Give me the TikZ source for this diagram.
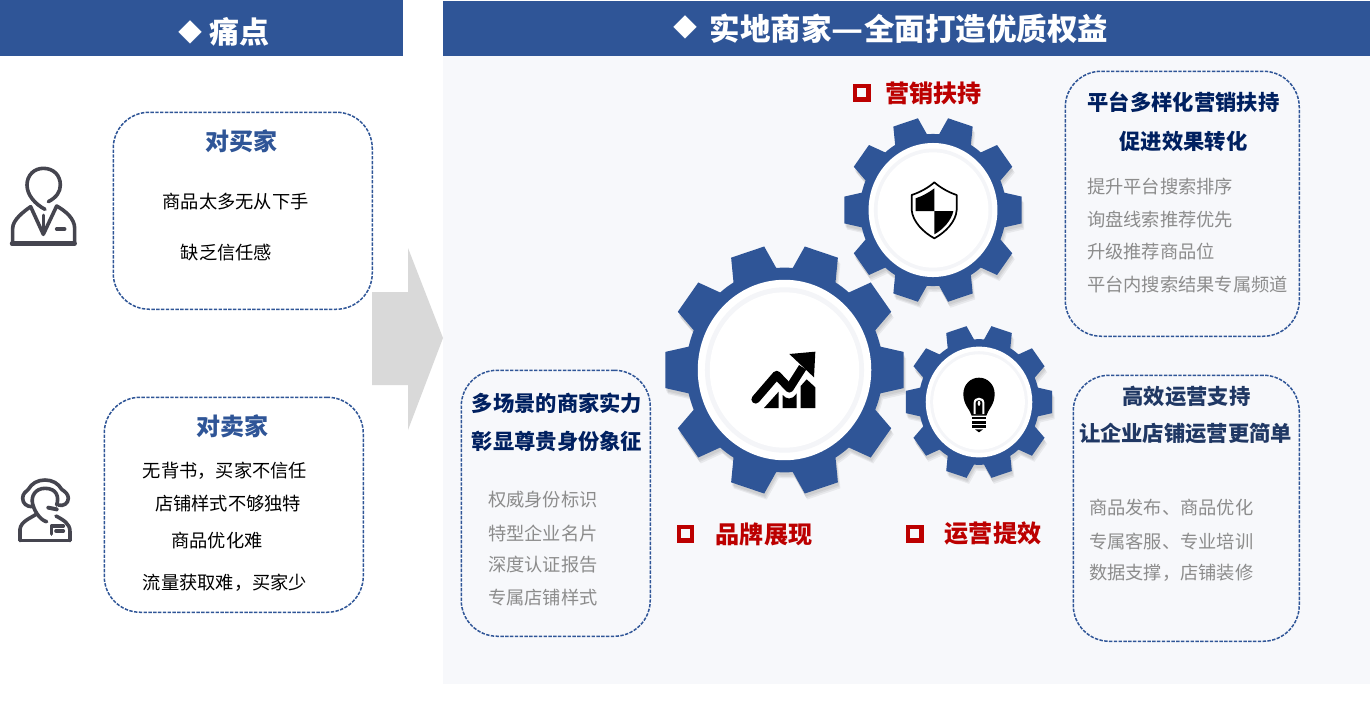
\documentclass[tikz,border=0pt]{standalone}
\usepackage{fontspec}
\setmainfont{Noto Sans CJK SC}
\definecolor{brand}{HTML}{2F5597}
\definecolor{panelbg}{HTML}{F7F8FB}
\definecolor{arrowgrey}{HTML}{D9D9D9}
\definecolor{navy}{HTML}{002060}
\definecolor{navyb}{HTML}{203864}
\definecolor{itemgrey}{HTML}{8C8C8C}
\definecolor{redlabel}{HTML}{BC0000}
\definecolor{iconink}{HTML}{45454F}
\definecolor{ringgrey}{HTML}{F4F5F8}
\tikzset{
  dashbox/.style={draw=brand,line width=1.5pt,dash pattern=on 3.4pt off 1.4pt,rounded corners=36pt,inner sep=0pt,anchor=north west},
  txt/.style={inner sep=0pt,outer sep=0pt},
  bodytxt/.style={txt,font=\fontsize{18.25}{18.25}\selectfont,text=black},
  itemtxt/.style={txt,anchor=west,font=\fontsize{18.25}{18.25}\selectfont,text=itemgrey},
  headtxt/.style={txt,font=\fontsize{21.3}{21.3}\selectfont\bfseries,text=navy},
  headtxtb/.style={txt,font=\fontsize{21.3}{21.3}\selectfont\bfseries,text=navyb},
  boxtitle/.style={txt,font=\fontsize{24}{24}\selectfont\bfseries,text=brand},
  redtxt/.style={txt,font=\fontsize{24.1}{24.1}\selectfont\bfseries,text=redlabel},
  bartxt/.style={txt,font=\fontsize{30}{30}\selectfont\bfseries,text=white},
  titletxt/.style={txt,font=\fontsize{30.5}{30.5}\selectfont\bfseries,text=white},
  marktxt/.style={txt,font=\fontsize{24}{24}\selectfont\bfseries,text=white},
  redmark/.style={draw=redlabel,line width=4.4pt,minimum size=13.2pt,inner sep=0pt,fill=none},
  iconline/.style={draw=iconink,line width=3.6pt,line cap=round,line join=round,fill=none},
  zoomed/.style={x=0.33333pt,y=-0.33333pt}
}
\newcommand\gearoutline[1]{%
  \fill[#1] (-13.2:81.7pt)
    \foreach \a in {0,36,...,324} {
      -- (\a-13.2:81.7pt) -- (\a-8.3:100pt) -- (\a+8.3:100pt) -- (\a+13.2:81.7pt)
      arc[start angle=\a+13.2,end angle=\a+22.8,radius=81.7pt]
    } -- cycle;
}
\newcommand\gearfig[3]{%
  \foreach \dx/\dy in {2.5/6,1.5/4.5,0.8/3}{
    \begin{scope}[shift={(#1+\dx,#2+\dy)},xscale=#3/100,yscale=#3*1.04/100]
      \gearoutline{black,opacity=0.06}
    \end{scope}
  }
  \begin{scope}[shift={(#1,#2)},xscale=#3/100,yscale=#3*1.04/100]
    \gearoutline{brand}
    \fill[white] (0,0) circle[radius=72pt];
    \fill[ringgrey] (0,0) circle[radius=66pt];
    \fill[white] (0,0) circle[radius=62pt];
  \end{scope}
}
\begin{document}
\begin{tikzpicture}[x=1pt,y=-1pt]
\useasboundingbox (0,0) rectangle (1370,705);
\fill[white] (0,0) rectangle (1370,705);
% panels
\fill[panelbg] (443,56) rectangle (1370,684);
\fill[brand] (0,0) rectangle (403,56);
\fill[brand] (443,1) rectangle (1370,56);
\node[marktxt] (markl) at (190,32) {◆};
\node[bartxt] (titlel) at (239,32) {痛点};
\node[marktxt] (markr) at (685,27.5) {◆};
\node[titletxt] (titler) at (909,29) {实地商家\scalebox{1.15}[1]{—}全面打造优质权益};
% big arrow
\fill[arrowgrey] (372,292) -- (408,292) -- (408,248) -- (443,338) -- (408,430) -- (408,385) -- (372,385) -- cycle;
% boxes
\node[dashbox,minimum width=259pt,minimum height=197pt] (buyer) at (112.5,111.5) {};
\node[dashbox,minimum width=259pt,minimum height=215pt] (seller) at (103.5,396.5) {};
\node[dashbox,minimum width=189pt,minimum height=266pt] (brandbox) at (460.5,369.5) {};
\node[dashbox,minimum width=234pt,minimum height=265pt] (mktbox) at (1064.5,70.5) {};
\node[dashbox,minimum width=226pt,minimum height=266pt] (opsbox) at (1072.5,374.5) {};
% left texts
\node[boxtitle] (b0) at (241,141) {对买家};
\node[bodytxt] (b1) at (235.5,202) {商品太多无从下手};
\node[bodytxt] (b2) at (226.5,253) {缺乏信任感};
\node[boxtitle] (s0) at (232,426.5) {对卖家};
\node[bodytxt] (s1) at (225,470.5) {无背书，买家不信任};
\node[bodytxt] (s2) at (228,503.5) {店铺样式不够独特};
\node[bodytxt] (s3) at (217,541) {商品优化难};
\node[bodytxt] (s4) at (225,583) {流量获取难，买家少};
% brand box
\node[headtxt] (h1) at (557,403) {多场景的商家实力};
\node[headtxt] (h2) at (557,441) {彰显尊贵身份象征};
\node[itemtxt] (i1) at (488,500) {权威身份标识};
\node[itemtxt] (i2) at (488,533) {特型企业名片};
\node[itemtxt] (i3) at (488,565) {深度认证报告};
\node[itemtxt] (i4) at (488,598) {专属店铺样式};
% marketing box
\node[headtxt] (m1) at (1183.5,102) {平台多样化营销扶持};
\node[headtxt] (m2) at (1183.5,141) {促进效果转化};
\node[itemtxt] (j1) at (1087,187) {提升平台搜索排序};
\node[itemtxt] (j2) at (1087,220) {询盘线索推荐优先};
\node[itemtxt] (j3) at (1087,252) {升级推荐商品位};
\node[itemtxt] (j4) at (1087,285) {平台内搜索结果专属频道};
% ops box
\node[headtxtb] (o1) at (1186.5,396) {高效运营支持};
\node[headtxtb] (o2) at (1185.5,433) {让企业店铺运营更简单};
\node[itemtxt] (k1) at (1089,508) {商品发布、商品优化};
\node[itemtxt] (k2) at (1089,541) {专属客服、专业培训};
\node[itemtxt] (k3) at (1089,573) {数据支撑，店铺装修};
% gears
\gearfig{933}{210}{89.5}
\gearfig{979}{402}{74}
\gearfig{784.5}{370}{120.5}
% red labels
\node[redmark] (r1) at (861.7,92.8) {};
\node[redtxt] (rt1) at (933.5,93) {营销扶持};
\node[redmark] (r2) at (685.5,533.8) {};
\node[redtxt] (rt2) at (764,534) {品牌展现};
\node[redmark] (r3) at (914.7,533.8) {};
\node[redtxt] (rt3) at (993,533) {运营提效};
% buyer icon
\begin{scope}[shift={(0,100)},zoomed]
  \draw[iconline] (145,305) .. controls (170,292) and (181,275) .. (181,255)
    .. controls (181,225) and (160,205) .. (130,205)
    .. controls (103,205) and (81,225) .. (81,255)
    .. controls (81,285) and (105,312) .. (135,328);
  \draw[iconline] (38,432) -- (38,385) .. controls (38,360) and (70,335) .. (92,320)
    -- (130,403) -- (170,318) .. controls (195,332) and (224,355) .. (224,385) -- (224,432);
  \draw[iconline,line width=4.4pt] (36,431) -- (224,431);
  \draw[iconline,line width=3pt] (130,345) -- (130,395);
  \draw[iconline] (170,387) -- (194,387);
\end{scope}
% seller icon
\begin{scope}[shift={(0,390)},zoomed]
  \draw[iconline] (95,350) .. controls (80,350) and (68,340) .. (68,325)
    .. controls (68,310) and (78,305) .. (85,298)
    .. controls (95,280) and (113,270) .. (135,270)
    .. controls (157,270) and (175,280) .. (185,298)
    .. controls (195,305) and (205,312) .. (205,325)
    .. controls (205,340) and (190,350) .. (175,345);
  \draw[iconline] (170,345) .. controls (178,320) and (170,295) .. (135,295)
    .. controls (105,295) and (92,320) .. (98,342)
    .. controls (105,370) and (125,392) .. (140,395);
  \draw[iconline,line width=4pt] (145,353) -- (170,358);
  \draw[iconline] (60,452) -- (60,418) .. controls (62,395) and (90,385) .. (110,372);
  \draw[iconline] (168,378) .. controls (190,390) and (210,400) .. (210,425) -- (210,452);
  \draw[iconline] (60,452) -- (210,452);
  \draw[iconline] (155,432) -- (155,408) -- (190,408);
  \draw[iconline] (168,423) -- (190,423);
\end{scope}
% chart icon
\begin{scope}[shift={(740,340)},zoomed]
  \draw[black,line width=8.5pt,line cap=round,line join=round] (47,178) -- (110,105) -- (148,145);
  \draw[black,line width=8.5pt,line join=round] (148,145) -- (188,82);
  \fill[black] (148,42) -- (226,35) -- (222,112) -- cycle;
  \fill[black] (72,204) -- (116,155) -- (116,204) -- cycle;
  \fill[black] (128,204) -- (128,165) .. controls (140,178) and (155,182) .. (170,160) -- (170,204) -- cycle;
  \fill[black] (182,204) -- (182,138) -- (200,118) -- (226,142) -- (226,204) -- cycle;
\end{scope}
% shield icon
\begin{scope}[shift={(900,175)},zoomed]
  \draw[black,line width=1.7pt,line join=round,fill=white] (103,22)
    .. controls (85,38) and (60,52) .. (35,60) -- (35,105)
    .. controls (38,140) and (70,172) .. (103,190)
    .. controls (136,172) and (168,140) .. (170,105) -- (170,60)
    .. controls (146,52) and (121,38) .. (103,22) -- cycle;
  \fill[black] (47,70) .. controls (68,63) and (87,52) .. (103,40) -- (103,108) -- (47,108) -- cycle;
  \fill[black] (103,108) -- (160,108) .. controls (155,135) and (130,163) .. (103,178) -- cycle;
\end{scope}
% bulb icon
\begin{scope}[shift={(955,370)},zoomed]
  \fill[black] (50,137) .. controls (45,118) and (25,105) .. (25,72)
    .. controls (25,45) and (45,23) .. (72,23)
    .. controls (99,23) and (119,45) .. (119,72)
    .. controls (119,105) and (99,118) .. (94,137) -- cycle;
  \fill[white] (56,132) -- (56,98) .. controls (56,78) and (88,78) .. (88,98) -- (88,132) -- cycle;
  \fill[black] (62,132) -- (62,98) .. controls (62,88) and (82,88) .. (82,98) -- (82,132) -- cycle;
  \fill[white] (68,100) .. controls (68,90) and (76,90) .. (76,100) .. controls (76,110) and (68,110) .. (68,100) -- cycle;
  \fill[black] (52,140) rectangle (92,148);
  \fill[black] (52,153) rectangle (92,161);
  \fill[black] (52,166) rectangle (92,174);
  \fill[black] (60,178) -- (84,178) -- (72,187) -- cycle;
\end{scope}
\end{tikzpicture}
\end{document}
